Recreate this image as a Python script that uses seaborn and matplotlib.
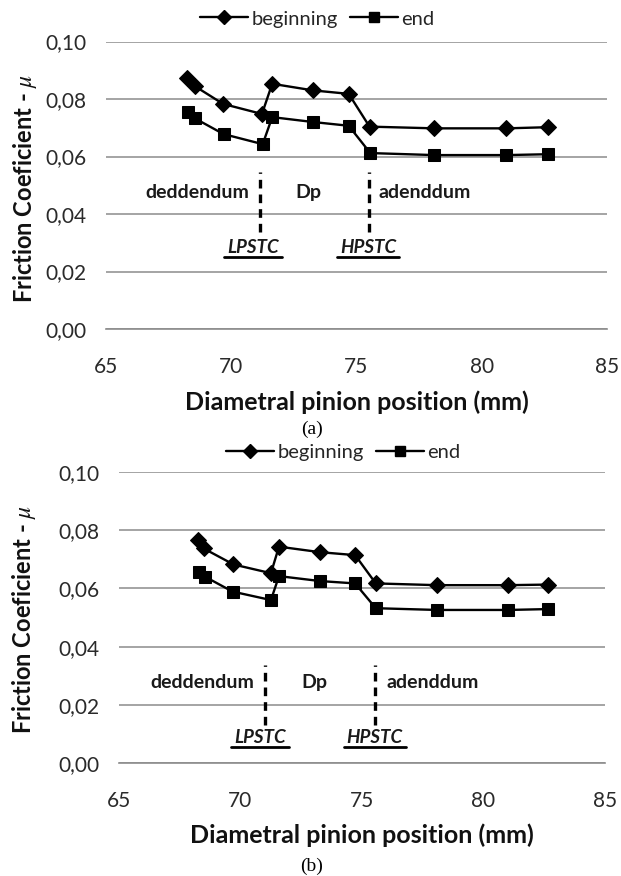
import matplotlib
matplotlib.use("Agg")
import matplotlib.pyplot as plt
import seaborn as sns
import pandas as pd
from matplotlib.lines import Line2D
from matplotlib.ticker import FuncFormatter

sns.set_theme(style="white")
plt.rcParams['font.family'] = ['Lato', 'DejaVu Sans']
plt.rcParams['mathtext.fontset'] = 'stix'

# ---- data (a) ----
x_begin_a = [68.24, 68.55, 69.68, 71.23, 71.64, 73.27, 74.69, 75.52, 78.11, 80.98, 82.63]
mu_begin_a = [0.0874, 0.0845, 0.0783, 0.0748, 0.0853, 0.0830, 0.0818, 0.0704, 0.0698, 0.0698, 0.0702]
x_end_a = [68.29, 68.55, 69.70, 71.26, 71.64, 73.27, 74.69, 75.55, 78.11, 80.98, 82.63]
mu_end_a = [0.0756, 0.0733, 0.0678, 0.0643, 0.0737, 0.0720, 0.0707, 0.0612, 0.0605, 0.0605, 0.0608]

# ---- data (b) ----
x_begin_b = [68.25, 68.49, 69.72, 71.26, 71.59, 73.29, 74.72, 75.57, 78.09, 81.02, 82.65]
mu_begin_b = [0.0766, 0.0737, 0.0682, 0.0652, 0.0743, 0.0724, 0.0714, 0.0617, 0.0611, 0.0611, 0.0613]
x_end_b = [68.30, 68.55, 69.68, 71.26, 71.59, 73.29, 74.72, 75.57, 78.09, 81.02, 82.65]
mu_end_b = [0.0657, 0.0640, 0.0589, 0.0560, 0.0642, 0.0625, 0.0617, 0.0532, 0.0526, 0.0526, 0.0529]

series_labels = ["beginning", "end"]
x_ticks = [65, 70, 75, 80, 85]
y_ticks = [0.00, 0.02, 0.04, 0.06, 0.08, 0.10]
region_labels = ["deddendum", "Dp", "adenddum"]
boundary_labels = ["LPSTC", "HPSTC"]

# region annotation positions (data units)
region_x_a = [68.67, 73.09, 77.73]
region_y_a = 0.0476
bound_x_a = [71.14, 75.50]
bound_y_a = (0.0336, 0.0545)
bound_lab_x_a = [70.87, 75.46]
bound_lab_y_a = 0.0283

region_x_b = [68.44, 73.05, 77.92]
region_y_b = 0.0276
bound_x_b = [71.01, 75.53]
bound_y_b = (0.0131, 0.0337)
bound_lab_x_b = [70.81, 75.53]
bound_lab_y_b = 0.0087

GRAY = "#8c8c8c"
TXT = "#1a1a1a"

fig = plt.figure(figsize=(6.21, 8.76), dpi=100)
ax_a = fig.add_axes([0.1702, 0.6244, 0.8077, 0.3282])
ax_b = fig.add_axes([0.1911, 0.1286, 0.7834, 0.3329])

underline_texts = []

def draw_panel(ax, xb, yb, xe, ye, rx, ry, bx, by, blx, bly):
    df_b = pd.DataFrame({"x": xb, "y": yb})
    df_e = pd.DataFrame({"x": xe, "y": ye})
    sns.lineplot(data=df_b, x="x", y="y", ax=ax, color="black", lw=1.7,
                 marker="D", markersize=8.5, markeredgecolor="black",
                 sort=False, label=series_labels[0], legend=False)
    sns.lineplot(data=df_e, x="x", y="y", ax=ax, color="black", lw=1.7,
                 marker="s", markersize=8.5, markeredgecolor="black",
                 sort=False, label=series_labels[1], legend=False)
    ax.set_xlim(65, 85)
    ax.set_ylim(0, 0.10)
    ax.set_xticks(x_ticks)
    ax.set_yticks(y_ticks)
    ax.yaxis.set_major_formatter(FuncFormatter(lambda v, p: f"{v:.2f}".replace(".", ",")))
    for s in ["top", "right", "left"]:
        ax.spines[s].set_visible(False)
    ax.spines["bottom"].set_color(GRAY)
    ax.spines["bottom"].set_linewidth(1.2)
    ax.grid(axis="y", color=GRAY, lw=1.1)
    ax.set_axisbelow(True)
    ax.tick_params(axis="x", direction="inout", length=10, width=1, color=GRAY,
                   pad=15, labelsize=15, labelcolor="#2a2a2a")
    ax.tick_params(axis="y", length=0, pad=14, labelsize=15, labelcolor="#2a2a2a")
    ax.set_xlabel("")
    ax.set_ylabel("")
    for lab, xx in zip(region_labels, rx):
        ax.text(xx, ry, lab, ha="center", va="center", fontsize=14,
                fontweight="bold", color=TXT)
    for xx in bx:
        ax.plot([xx, xx], list(by), color="black", lw=2.4, ls=(0, (2.6, 1.8)))
    for lab, xx in zip(boundary_labels, blx):
        t = ax.text(xx, bly, lab, ha="center", va="center", fontsize=13.5,
                    fontweight="bold", fontstyle="italic", color=TXT)
        underline_texts.append(t)

draw_panel(ax_a, x_begin_a, mu_begin_a, x_end_a, mu_end_a,
           region_x_a, region_y_a, bound_x_a, bound_y_a, bound_lab_x_a, bound_lab_y_a)
draw_panel(ax_b, x_begin_b, mu_begin_b, x_end_b, mu_end_b,
           region_x_b, region_y_b, bound_x_b, bound_y_b, bound_lab_x_b, bound_lab_y_b)

ylab = r"Friction Coeficient - $\mu$"
xlab = "Diametral pinion position (mm)"
fig.text(25 / 621, 1 - 188 / 876, ylab, rotation=90, ha="center", va="center",
         fontsize=17, fontweight="bold", color="#111111")
fig.text(24 / 621, 1 - 619 / 876, ylab, rotation=90, ha="center", va="center",
         fontsize=17, fontweight="bold", color="#111111")
fig.text(357 / 621, 1 - 402 / 876, xlab, ha="center", va="center",
         fontsize=18, fontweight="bold", color="#111111")
fig.text(362 / 621, 1 - 835 / 876, xlab, ha="center", va="center",
         fontsize=18, fontweight="bold", color="#111111")
fig.text(312 / 621, 1 - 429 / 876, "(a)", ha="center", va="center",
         fontsize=14, family="Liberation Serif", color="black")
fig.text(312 / 621, 1 - 866 / 876, "(b)", ha="center", va="center",
         fontsize=14, family="Liberation Serif", color="black")

handles = [Line2D([], [], color="black", lw=1.7, marker="D", markersize=7.5),
           Line2D([], [], color="black", lw=1.7, marker="s", markersize=7.5)]
for cx, cy in [(317 / 621, 1 - 19 / 876), (343 / 621, 1 - 452 / 876)]:
    fig.legend(handles, series_labels, loc="center", bbox_to_anchor=(cx, cy),
               bbox_transform=fig.transFigure, ncol=2, frameon=False,
               fontsize=14.5, handlelength=2.4, handletextpad=0.15,
               columnspacing=0.6, borderpad=0)

# underline the boundary labels
fig.canvas.draw()
r = fig.canvas.get_renderer()
inv = fig.transFigure.inverted()
for t in underline_texts:
    bb = t.get_window_extent(renderer=r)
    (x0, y0), (x1, _) = inv.transform([(bb.x0 - 3, bb.y0 - 1), (bb.x1 + 3, bb.y0)])
    fig.add_artist(Line2D([x0, x1], [y0, y0], color="black", lw=2.0,
                          transform=fig.transFigure))

fig.savefig("out.png", dpi=100, facecolor="white")
